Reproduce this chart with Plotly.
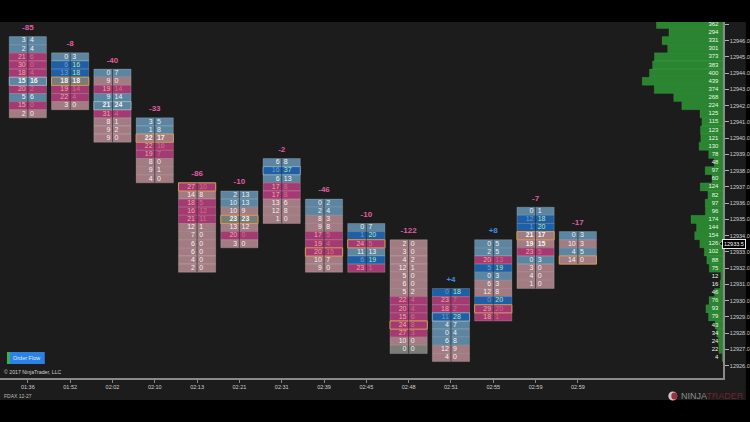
import plotly.graph_objects as go

# footprint bars, left to right
bar_times = ["01:36", "01:52", "02:02", "02:10", "02:13", "02:21", "02:31",
             "02:39", "02:45", "02:48", "02:51", "02:55", "02:59", "02:59"]
bar_deltas = ["-85", "-8", "-40", "-33", "-86", "-10", "-2",
              "-46", "-10", "-122", "+4", "+8", "-7", "-17"]
bar_top_prices = [12946.0, 12945.0, 12944.0, 12941.0, 12937.0, 12936.5, 12938.5,
                  12936.0, 12934.5, 12933.5, 12930.5, 12933.5, 12935.5, 12934.0]
bar_bids = [
    [3, 2, 21, 30, 18, 15, 20, 5, 15, 2],
    [0, 6, 13, 18, 19, 22, 3],
    [0, 9, 19, 9, 21, 31, 8, 9, 9],
    [3, 1, 22, 22, 19, 8, 9, 4],
    [27, 14, 18, 16, 21, 12, 7, 6, 6, 4, 2],
    [2, 10, 10, 23, 13, 20, 3],
    [6, 16, 6, 17, 17, 13, 12, 1],
    [0, 2, 8, 9, 17, 19, 20, 10, 9],
    [0, 1, 24, 11, 6, 23],
    [2, 3, 4, 12, 5, 6, 5, 22, 20, 15, 24, 27, 10, 0],
    [0, 23, 18, 11, 4, 0, 6, 12, 4],
    [0, 2, 20, 5, 0, 6, 12, 0, 29, 18],
    [0, 12, 1, 21, 19, 23, 0, 3, 4, 1],
    [0, 10, 4, 14],
]
bar_asks = [
    [4, 4, 6, 0, 4, 16, 2, 6, 0, 0],
    [3, 16, 18, 18, 14, 4, 0],
    [7, 0, 14, 14, 24, 4, 1, 2, 0],
    [5, 8, 17, 16, 7, 0, 1, 0],
    [10, 8, 5, 12, 11, 1, 0, 0, 0, 0, 0],
    [13, 13, 9, 23, 12, 0, 0],
    [8, 37, 13, 8, 8, 6, 8, 0],
    [2, 4, 3, 8, 5, 4, 15, 7, 0],
    [7, 20, 5, 13, 19, 1],
    [0, 0, 2, 1, 0, 0, 2, 4, 4, 6, 8, 3, 0, 0],
    [18, 7, 2, 28, 7, 4, 8, 9, 0],
    [5, 5, 13, 19, 3, 3, 8, 20, 20, 1],
    [1, 18, 20, 17, 15, 5, 3, 0, 0, 0],
    [3, 3, 5, 0],
]

# volume profile on the right, one row per half point from 12947.0 down
profile_top = 12947.0
profile_volumes = [362, 294, 331, 301, 373, 383, 400, 439, 374, 268, 224, 125, 115, 123,
                   121, 130, 78, 48, 97, 60, 124, 82, 97, 96, 174, 144, 154, 126,
                   102, 88, 75, 12, 16, 46, 76, 93, 79, 43, 34, 24, 22, 4]
last_price = 12933.5

# price axis, the top tick has no label in the picture
price_ticks = [12947 - k for k in range(22)]
price_labels = [""] + [f"{p:.1f}" for p in price_ticks[1:]]

FONT = "Liberation Sans"
PANEL = "#1c1c1c"
BLUE_GREY = "#5b85a0"
STRONG_BLUE = "#1f5fa6"
MAGENTA = "#a53a72"
ROSE = "#a37b82"
GREY = "#7b7b78"
GOLD = "#d09a50"
PALE = "rgba(196,212,216,0.55)"


def px(x):
    """Window pixel to paper x."""
    return x / 727


def py(y):
    """Window pixel to paper y."""
    return (378 - y) / 356


def cell_color(bid, ask):
    if bid >= 15 and ask <= 0.75 * bid:
        return MAGENTA
    if ask >= 15 and bid <= 0.75 * ask:
        return STRONG_BLUE
    if ask > bid:
        return BLUE_GREY
    if ask == bid:
        return GREY
    return ROSE


# flatten the bars into cells
cells = {"x": [], "base": [], "price": [], "color": []}
poc = {"x": [], "base": [], "color": [], "outline": []}
bid_text, ask_text, bid_colors, ask_colors = [], [], [], []
div_x, div_y = [], []
for i in range(len(bar_times)):
    bids, asks = bar_bids[i], bar_asks[i]
    totals = [b + a for b, a in zip(bids, asks)]
    top = bar_top_prices[i]
    for j in range(len(bids)):
        price = top - j * 0.5
        color = cell_color(bids[j], asks[j])
        cells["x"].append(i)
        cells["base"].append(price - 0.25)
        cells["price"].append(price)
        cells["color"].append(color)
        if j == totals.index(max(totals)):
            poc["x"].append(i)
            poc["base"].append(price - 0.25)
            poc["color"].append(color)
            poc["outline"].append(PALE if asks[j] > bids[j] else GOLD)
        bold = totals[j] >= 30 and totals[j] >= 0.85 * max(totals) and color not in (MAGENTA, STRONG_BLUE)
        b, a = str(bids[j]), str(asks[j])
        bid_text.append(f"<b>{b}</b>" if bold else b)
        ask_text.append(f"<b>{a}</b>" if bold else a)
        if color == MAGENTA:
            bid_colors.append("#f4aaa4")
            ask_colors.append("#d0708a")
        elif color == STRONG_BLUE:
            bid_colors.append("#62a2d4")
            ask_colors.append("#b8e8a8")
        else:
            bid_colors.append("#f2f2f2")
            ask_colors.append("#f2f2f2")
    div_x += [i, i, None]
    div_y += [top + 0.25, top - (len(bids) - 1) * 0.5 - 0.25, None]

profile_prices = [profile_top - k * 0.5 for k in range(len(profile_volumes))]

fig = go.Figure()

# volume profile
fig.add_trace(go.Bar(
    x=profile_volumes, y=profile_prices, orientation="h", width=0.5, xaxis="x2",
    marker=dict(color="#298530", line=dict(color="rgba(120,200,120,0.25)", width=0.6)),
    hoverinfo="skip",
))
fig.add_trace(go.Scatter(
    x=[25] * len(profile_volumes), y=profile_prices, xaxis="x2", mode="text",
    text=[str(v) for v in profile_volumes], textposition="middle left",
    textfont=dict(family=FONT, size=6, color="#eef6ea"), hoverinfo="skip",
))

# footprint cells
fig.add_trace(go.Bar(
    x=cells["x"], y=[0.5] * len(cells["x"]), base=cells["base"], width=0.88,
    marker=dict(color=cells["color"], line=dict(color="rgba(225,225,225,0.32)", width=0.7)),
    hoverinfo="skip",
))
fig.add_trace(go.Bar(
    x=poc["x"], y=[0.5] * len(poc["x"]), base=poc["base"], width=0.88,
    marker=dict(color=poc["color"], line=dict(color=poc["outline"], width=1)),
    hoverinfo="skip",
))
fig.add_trace(go.Scatter(
    x=div_x, y=div_y, mode="lines", line=dict(color="rgba(45,45,45,0.7)", width=1),
    hoverinfo="skip",
))
fig.add_trace(go.Scatter(
    x=[c - 0.05 for c in cells["x"]], y=cells["price"], mode="text", text=bid_text,
    textposition="middle left",
    textfont=dict(family=FONT, size=7, color=bid_colors), hoverinfo="skip",
))
fig.add_trace(go.Scatter(
    x=[c + 0.05 for c in cells["x"]], y=cells["price"], mode="text", text=ask_text,
    textposition="middle right",
    textfont=dict(family=FONT, size=7, color=ask_colors), hoverinfo="skip",
))

# delta above each bar
fig.add_trace(go.Scatter(
    x=list(range(len(bar_times))), y=[p + 0.78 for p in bar_top_prices], mode="text",
    text=[f"<b>{d}</b>" for d in bar_deltas], textposition="middle center",
    textfont=dict(family=FONT, size=8,
                  color=["#3d90e6" if d.startswith("+") else "#de5fa2" for d in bar_deltas]),
    hoverinfo="skip",
))

tag_y = 243.7
shapes = [
    # chart panel, black bands stay above and below
    dict(type="rect", xref="paper", yref="paper", x0=0, x1=px(750), y0=py(400), y1=1,
         fillcolor=PANEL, line_width=0, layer="below"),
    # order flow button
    dict(type="rect", xref="paper", yref="paper", x0=px(7), x1=px(45), y0=py(364), y1=py(352),
         fillcolor="#2b82e4", line_width=0),
    dict(type="rect", xref="paper", yref="paper", x0=px(7), x1=px(10), y0=py(364), y1=py(352),
         fillcolor="#3fae4a", line_width=0),
    # logo
    dict(type="circle", xref="paper", yref="paper", x0=px(672), x1=px(681), y0=py(400.5), y1=py(391.5),
         fillcolor="#c9c9c9", line_width=0),
    dict(type="circle", xref="paper", yref="paper", x0=px(675), x1=px(681), y0=py(399.5), y1=py(392.5),
         fillcolor="#a02c3c", line_width=0),
    # pointer of the last price tag
    dict(type="path", xref="paper", yref="paper",
         path=f"M {px(723)} {py(tag_y)} L {px(728)} {py(tag_y - 4)} L {px(728)} {py(tag_y + 4)} Z",
         fillcolor="black", line=dict(color="#e8e8e8", width=0.6)),
]

annotations = [
    dict(xref="paper", yref="paper", x=px(27), y=py(358), text="Order Flow", showarrow=False,
         xanchor="center", yanchor="middle", font=dict(family=FONT, size=5.5, color="#dcecff")),
    dict(xref="paper", yref="paper", x=px(2), y=py(372), text="© 2017 NinjaTrader, LLC", showarrow=False,
         xanchor="left", yanchor="middle", font=dict(family=FONT, size=5.2, color="#cfcfcf")),
    dict(xref="paper", yref="paper", x=px(2), y=py(396), text="FDAX 12-27", showarrow=False,
         xanchor="left", yanchor="middle", font=dict(family=FONT, size=5, color="#bdbdbd")),
    dict(xref="paper", yref="paper", x=px(683), y=py(396), showarrow=False, xanchor="left", yanchor="middle",
         text='<span style="color:#8c8c8c">NINJA</span><span style="color:#6e2430">TRADER</span>',
         font=dict(family=FONT, size=9)),
    dict(xref="paper", yref="y", x=px(738.5), y=last_price, text=f"{last_price:.1f}", showarrow=False,
         xanchor="center", yanchor="middle",
         bgcolor="black", bordercolor="#e8e8e8", borderwidth=1, borderpad=1,
         font=dict(family=FONT, size=5.5, color="white")),
]

fig.update_layout(
    width=750, height=422,
    margin=dict(l=0, r=23, t=22, b=44),
    paper_bgcolor="black", plot_bgcolor=PANEL,
    barmode="overlay", showlegend=False,
    shapes=shapes, annotations=annotations,
    xaxis=dict(
        range=[-0.658, 16.43], tickmode="array", tickvals=list(range(len(bar_times))), ticktext=bar_times,
        showgrid=False, zeroline=False, showline=True, linecolor="#8a8a8a", linewidth=1.5,
        ticks="outside", ticklen=3, tickcolor="#8a8a8a", tickangle=0,
        tickfont=dict(family=FONT, size=5.5, color="#d0d0d0"),
    ),
    xaxis2=dict(range=[3930, 0], overlaying="x", visible=False),
    yaxis=dict(
        range=[12925.24, 12947.15], side="right", tickmode="array",
        tickvals=price_ticks, ticktext=price_labels,
        showgrid=False, zeroline=False, showline=True, linecolor="#8a8a8a", linewidth=1.5,
        ticks="outside", ticklen=4, tickcolor="#b0b0b0",
        tickfont=dict(family=FONT, size=5.5, color="#d0d0d0"),
    ),
)

# the page's default body margin would shift the whole chart
fig.write_html("out.html", config=dict(displayModeBar=False),
               post_script="document.body.style.margin='0';")
